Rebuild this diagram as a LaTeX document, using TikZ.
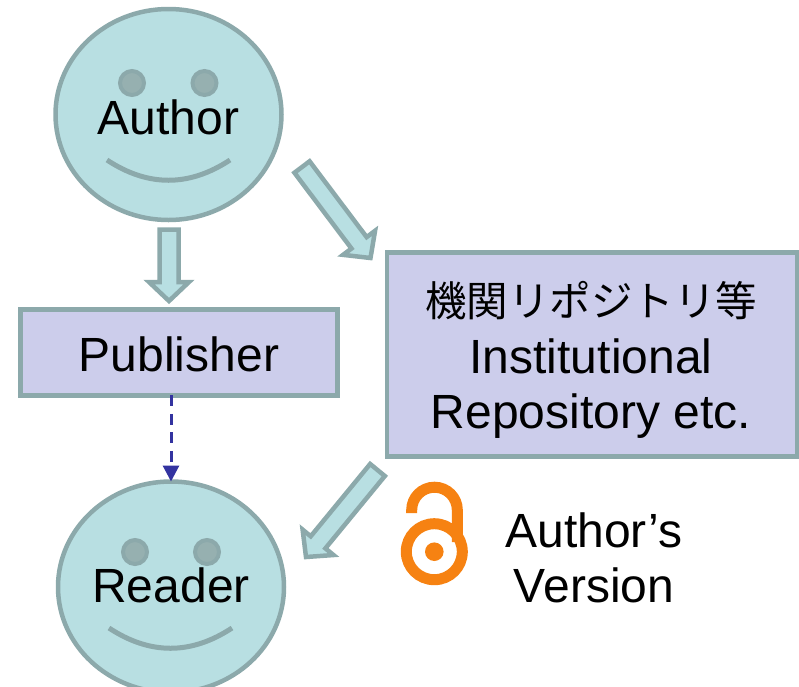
\documentclass[tikz,border=0pt]{standalone}
\usepackage{fontspec}
\setmainfont{Liberation Sans}
\newfontfamily\cjk{Noto Sans CJK JP}
\usetikzlibrary{calc,shapes.geometric,arrows.meta}
\definecolor{facefill}{HTML}{B8DFE2}
\definecolor{faceline}{HTML}{8CA9AB}
\definecolor{eyefill}{HTML}{96B0B0}
\definecolor{boxfill}{HTML}{CCCDEB}
\definecolor{dashline}{HTML}{3333A0}
\definecolor{oaorange}{HTML}{F68212}
\tikzset{
	bigtext/.style={font=\fontsize{48}{55}\selectfont},
	face/.style={ellipse, draw=faceline, fill=facefill, line width=4.5pt, minimum width=226pt, minimum height=211pt, inner sep=0pt, outer sep=0pt},
	eye/.style={draw=faceline, fill=eyefill, line width=4pt},
	mouth/.style={draw=faceline, line width=5pt},
	box/.style={rectangle, draw=faceline, fill=boxfill, line width=4.5pt, inner sep=0pt, outer sep=0pt},
	blockline/.style={draw=faceline, fill=facefill, line width=4.5pt, miter limit=10},
}
\newcommand{\blockarrow}[2]{
	\coordinate (hb) at ($(#2)!19pt!(#1)$);
	\filldraw[blockline] ($(#1)!9.5pt!90:(#2)$) -- ($(hb)!9.5pt!90:(#2)$) -- ($(hb)!20pt!90:(#2)$) -- (#2) -- ($(hb)!20pt!-90:(#2)$) -- ($(hb)!9.5pt!-90:(#2)$) -- ($(#1)!9.5pt!-90:(#2)$) -- cycle;
}
\begin{document}
\begin{tikzpicture}[x=1pt,y=-1pt]
	\useasboundingbox (0,0) rectangle (799,686);
	\node[face] (author) at (168.5,114.5) {};
	\filldraw[eye] (132,83) circle (12);
	\filldraw[eye] (204.5,83) circle (12);
	\draw[mouth] (107,160) .. controls (148,187) and (189,187) .. (230,160);
	\node[bigtext] (authortext) at (168.5,117) {Author};
	\node[face] (reader) at (171,587) {};
	\filldraw[eye] (135,552) circle (12);
	\filldraw[eye] (207,552) circle (12);
	\draw[mouth] (109,628) .. controls (150,655) and (191,655) .. (232,628);
	\node[bigtext] (readertext) at (171,585) {Reader};
	\node[box, minimum width=317pt, minimum height=85.8pt] (publisher) at (179,352.4) {};
	\node[bigtext] (publishertext) at (179,354) {Publisher};
	\node[box, minimum width=410pt, minimum height=204pt] (repository) at (592,354.5) {};
	\node[bigtext, align=center] (repositorytext) at (591,360) {\raisebox{2pt}{\cjk\fontsize{41.5}{55}\selectfont 機関リポジトリ等}\\Institutional\\Repository etc.};
	\coordinate (a2ptail) at (169,229.5);
	\coordinate (a2ptip) at (169,301);
	\blockarrow{a2ptail}{a2ptip}
	\coordinate (a2rtail) at (302,167);
	\coordinate (a2rtip) at (370.5,258);
	\blockarrow{a2rtail}{a2rtip}
	\coordinate (r2rtail) at (377.5,470);
	\coordinate (r2rtip) at (306,557);
	\blockarrow{r2rtail}{r2rtip}
	\draw[dashline, line width=3pt, dash pattern=on 11pt off 7.5pt, -{Triangle[length=16pt,width=16pt]}] (publisher.south -| reader.north) -- (reader.north);
	\draw[oaorange, line width=11pt] (434.3,551.7) circle (28);
	\fill[oaorange] (434.3,551.7) circle (9.3);
	\draw[oaorange, line width=11pt] (411.7,513) -- (411.7,510) arc (180:360:22.8) -- (457.3,542);
	\node[bigtext, align=center] (version) at (594,558) {Author’s\\Version};
\end{tikzpicture}
\end{document}
